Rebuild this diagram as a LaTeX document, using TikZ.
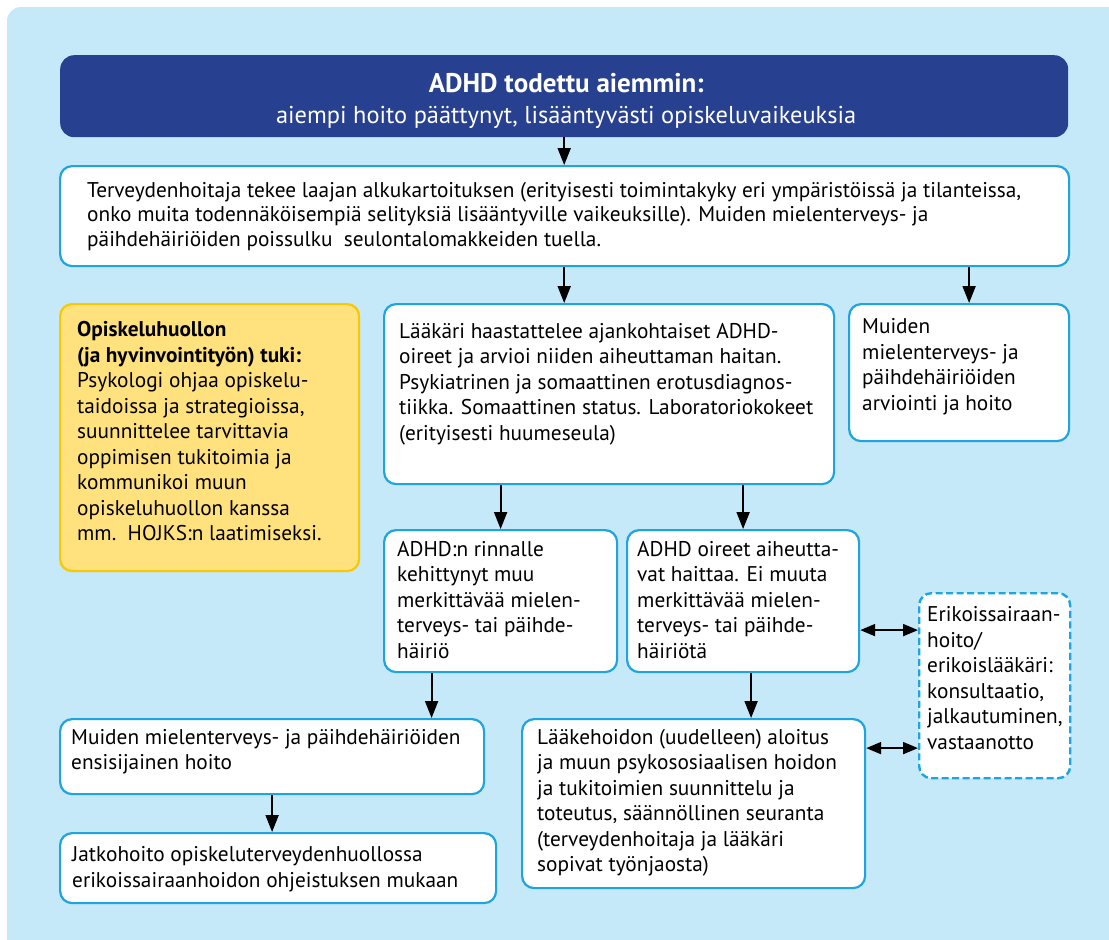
\documentclass[tikz,border=0pt]{standalone}
\usepackage{fontspec}
\setmainfont{PT Sans}
\usetikzlibrary{arrows.meta,calc}

\definecolor{bgblue}{HTML}{C5E9F9}
\definecolor{hdrblue}{HTML}{27408F}
\definecolor{edgecyan}{HTML}{1EA5E0}
\definecolor{notefill}{HTML}{FFE27D}
\definecolor{noteedge}{HTML}{F8C800}

\newcommand\bodyfont{\fontsize{21.3}{25.5}\selectfont}

\tikzset{
  panel/.style={draw=edgecyan, line width=2.2pt, fill=white, rounded corners=12pt,
    inner sep=0pt, anchor=north west},
  notepanel/.style={panel, draw=noteedge, fill=notefill},
  dashpanel/.style={panel, dash pattern=on 7pt off 3.5pt, line width=2.4pt},
  headpanel/.style={fill=hdrblue, rounded corners=14pt, inner sep=0pt, anchor=north west},
  txt/.style={inner sep=0pt, anchor=north west, align=left, font=\bodyfont},
  arr/.style={line width=2pt, -{Triangle[length=17pt,width=13pt]}},
  darr/.style={line width=2pt, {Triangle[length=15pt,width=12pt]}-{Triangle[length=15pt,width=12pt]}},
}

\begin{document}
\begin{tikzpicture}[x=1pt,y=-1pt]
\useasboundingbox (0,0) rectangle (1109,940);
\fill[bgblue, rounded corners=14pt] (7,7) rectangle (1130,960);

% boxes
\node[headpanel, minimum width=1008pt, minimum height=82pt] (hdr) at (60,55) {};
\node[panel, minimum width=1009pt, minimum height=100pt] (b1) at (59,165) {};
\node[notepanel, minimum width=299pt, minimum height=267pt] (yl) at (59,303) {};
\node[panel, minimum width=450pt, minimum height=180pt] (lk) at (383,303) {};
\node[panel, minimum width=220pt, minimum height=137pt] (mr) at (848,303) {};
\node[panel, minimum width=233pt, minimum height=142pt] (a1) at (383,529) {};
\node[panel, minimum width=232pt, minimum height=142pt] (a2) at (626,529) {};
\node[dashpanel, minimum width=151pt, minimum height=185pt] (dz) at (918,592) {};
\node[panel, minimum width=424pt, minimum height=75pt] (me) at (59,718) {};
\node[panel, minimum width=436pt, minimum height=70pt] (jk) at (59,832) {};
\node[panel, minimum width=343pt, minimum height=169pt] (lh) at (521,718) {};

% connectors
\coordinate (mrin) at ([shift={(10,0)}]mr.north);
\coordinate (mein) at ([shift={(-69,0)}]a1.south);
\coordinate (lhin) at ([shift={(8,0)}]a2.south);
\coordinate (dzup) at ([shift={(0,29)}]a2.east);
\coordinate (dzlo) at ([shift={(0,-55.5)}]lh.east);

\draw[arr] (hdr.south) -- (hdr.south |- b1.north);
\draw[arr] (b1.south -| hdr.south) -- (lk.north -| hdr.south);
\draw[arr] (b1.south -| mrin) -- (mrin);
\draw[arr] (lk.south -| a1.north) -- (a1.north);
\draw[arr] (lk.south -| a2.north) -- (a2.north);
\draw[arr] (mein) -- (mein |- me.north);
\draw[arr] (lhin) -- (lhin |- lh.north);
\draw[arr] (me.south) -- (me.south |- jk.north);
\draw[darr] (dzup) -- (dzup -| dz.west);
\draw[darr] (dzlo) -- (dzlo -| dz.west);

% texts
\node[inner sep=0pt, anchor=north, align=center, text=white,
      font=\fontsize{24.4}{31}\selectfont] (hdrt) at ([shift={(2,15.3)}]hdr.north)
  {{\fontsize{27}{31}\selectfont\bfseries\strut ADHD todettu aiemmin:}\\
   aiempi hoito päättynyt, lisääntyvästi opiskeluvaikeuksia};

\node[txt, font=\fontsize{21.3}{24.5}\selectfont] (b1t) at ([shift={(28,15)}]b1.north west)
  {\strut Terveydenhoitaja tekee laajan alkukartoituksen (erityisesti toimintakyky eri ympäristöissä ja tilanteissa,\\
   onko muita todennäköisempiä selityksiä lisääntyville vaikeuksille). Muiden mielenterveys- ja\\
   päihdehäiriöiden poissulku\ \ seulontalomakkeiden tuella.};

\node[txt] (ylt) at ([shift={(18,15.85)}]yl.north west)
  {\strut\textbf{Opiskeluhuollon}\\
   \textbf{(ja hyvinvointityön) tuki:}\\
   Psykologi ohjaa opiskelu-\\
   taidoissa ja strategioissa,\\
   suunnittelee tarvittavia\\
   oppimisen tukitoimia ja\\
   kommunikoi muun\\
   opiskeluhuollon kanssa\\
   mm.\ \ HOJKS:n laatimiseksi.};

\node[txt] (lkt) at ([shift={(16,17.15)}]lk.north west)
  {\strut Lääkäri haastattelee ajankohtaiset ADHD-\\
   oireet ja arvioi niiden aiheuttaman haitan.\\
   Psykiatrinen ja somaattinen erotusdiagnos-\\
   tiikka. Somaattinen status. Laboratoriokokeet\\
   (erityisesti huumeseula)};

\node[txt] (mrt) at ([shift={(14,12.45)}]mr.north west)
  {\strut Muiden\\
   mielenterveys- ja\\
   päihdehäiriöiden\\
   arviointi ja hoito};

\node[txt] (a1t) at ([shift={(14,9.15)}]a1.north west)
  {\strut ADHD:n rinnalle\\
   kehittynyt muu\\
   merkittävää mielen-\\
   terveys- tai päihde-\\
   häiriö};

\node[txt] (a2t) at ([shift={(11,9.15)}]a2.north west)
  {\strut ADHD oireet aiheutta-\\
   vat haittaa. Ei muuta\\
   merkittävää mielen-\\
   terveys- tai päihde-\\
   häiriötä};

\node[txt] (dzt) at ([shift={(9,11.85)}]dz.north west)
  {\strut Erikoissairaan-\\
   hoito/\\
   erikoislääkäri:\\
   konsultaatio,\\
   jalkautuminen,\\
   vastaanotto};

\node[txt] (met) at ([shift={(12,8.15)}]me.north west)
  {\strut Muiden mielenterveys- ja päihdehäiriöiden\\
   ensisijainen hoito};

\node[txt] (jkt) at ([shift={(13,11.85)}]jk.north west)
  {\strut Jatkohoito opiskeluterveydenhuollossa\\
   erikoissairaanhoidon ohjeistuksen mukaan};

\node[txt] (lht) at ([shift={(16,8.15)}]lh.north west)
  {\strut Lääkehoidon (uudelleen) aloitus\\
   ja muun psykososiaalisen hoidon\\
   ja tukitoimien suunnittelu ja\\
   toteutus, säännöllinen seuranta\\
   (terveydenhoitaja ja lääkäri\\
   sopivat työnjaosta)};
\end{tikzpicture}
\end{document}
